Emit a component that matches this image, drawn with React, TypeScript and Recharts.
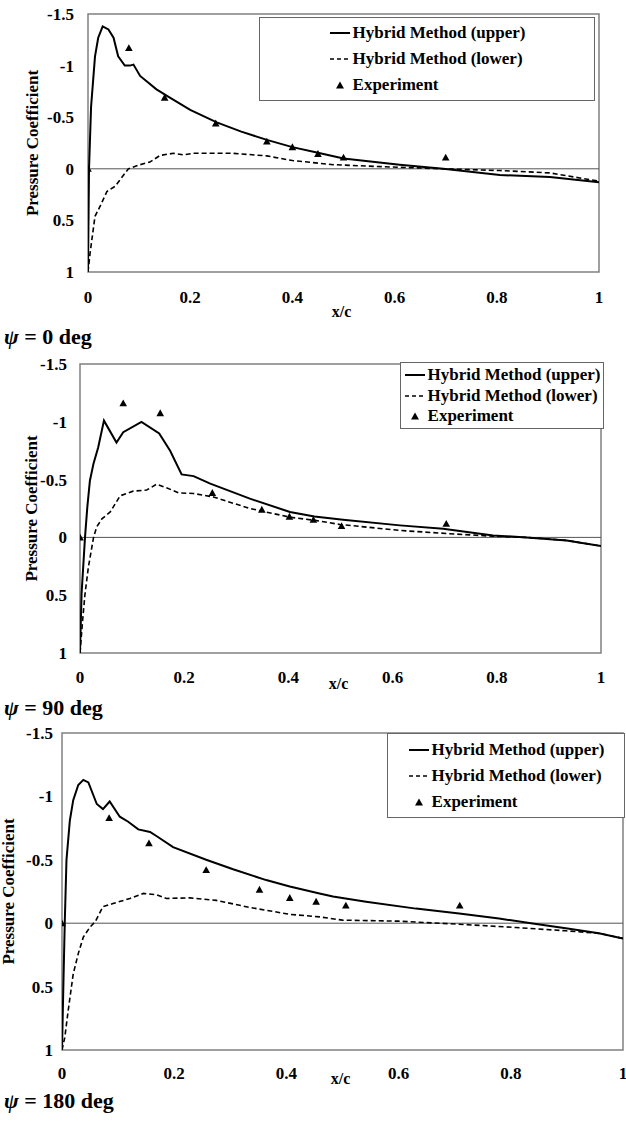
import React from 'react';
import { ComposedChart, Line, Scatter, XAxis, YAxis, ReferenceLine, ReferenceArea, Legend } from 'recharts';

type Pt = [number, number];

const xTicks = [0, 0.2, 0.4, 0.6, 0.8, 1];
const cpTicks = [-1.5, -1, -0.5, 0, 0.5, 1];
const seriesNames = ['Hybrid Method (upper)', 'Hybrid Method (lower)', 'Experiment'];
const panelAngles = ['0 deg', '90 deg', '180 deg'];

// psi = 0 deg  [x/c, Cp]
const upper0: Pt[] = [
  [0, 0.98], [0.002, 0], [0.006, -0.6], [0.0137, -1.09], [0.02, -1.27], [0.0287, -1.38], [0.04, -1.35],
  [0.05, -1.27], [0.059, -1.09], [0.072, -1.0], [0.082, -1.0], [0.089, -1.01], [0.102, -0.9], [0.134, -0.77],
  [0.157, -0.7], [0.2, -0.57], [0.252, -0.45], [0.3, -0.36], [0.35, -0.28], [0.4, -0.21], [0.45, -0.155],
  [0.5, -0.1], [0.61, -0.04], [0.695, 0], [0.806, 0.06], [0.904, 0.08], [1, 0.13],
];
const lower0: Pt[] = [
  [0, 1.0], [0.004, 0.82], [0.0137, 0.46], [0.023, 0.37], [0.037, 0.22], [0.053, 0.17], [0.079, 0],
  [0.102, -0.04], [0.121, -0.065], [0.141, -0.13], [0.167, -0.15], [0.187, -0.135], [0.206, -0.15],
  [0.284, -0.15], [0.35, -0.125], [0.4, -0.08], [0.45, -0.055], [0.48, -0.04], [0.578, -0.02], [0.695, 0],
  [0.806, 0.017], [0.904, 0.04], [1, 0.12],
];
const exp0: Pt[] = [
  [0, 0], [0.08, -1.17], [0.15, -0.69], [0.25, -0.44], [0.35, -0.265], [0.4, -0.21], [0.45, -0.145],
  [0.5, -0.11], [0.7, -0.11],
];

// psi = 90 deg
const upper90: Pt[] = [
  [0, 1.0], [0.003, 0.49], [0.0096, 0], [0.014, -0.26], [0.019, -0.49], [0.026, -0.64], [0.035, -0.78],
  [0.046, -1.01], [0.07, -0.82], [0.083, -0.91], [0.118, -1.0], [0.152, -0.9], [0.173, -0.75], [0.195, -0.545],
  [0.218, -0.53], [0.25, -0.465], [0.326, -0.335], [0.403, -0.22], [0.45, -0.18], [0.505, -0.153],
  [0.614, -0.104], [0.697, -0.075], [0.793, -0.017], [0.857, 0], [0.934, 0.026], [1, 0.075],
];
const lower90: Pt[] = [
  [0, 1.0], [0.005, 0.72], [0.0096, 0.49], [0.016, 0.26], [0.026, 0], [0.032, -0.09], [0.042, -0.16],
  [0.058, -0.22], [0.077, -0.36], [0.102, -0.4], [0.128, -0.41], [0.147, -0.46], [0.166, -0.43],
  [0.189, -0.385], [0.218, -0.38], [0.256, -0.35], [0.326, -0.25], [0.403, -0.175], [0.451, -0.147],
  [0.499, -0.112], [0.614, -0.06], [0.71, -0.032], [0.793, -0.01], [0.857, 0], [0.934, 0.026], [1, 0.075],
];
const exp90: Pt[] = [
  [0, 0], [0.083, -1.16], [0.154, -1.075], [0.254, -0.385], [0.349, -0.24], [0.402, -0.18], [0.448, -0.153],
  [0.502, -0.098], [0.703, -0.118],
];

// psi = 180 deg
const upper180: Pt[] = [
  [0, 1.0], [0.0024, 0.5], [0.005, -0.02], [0.008, -0.5], [0.014, -0.81], [0.02, -0.97], [0.029, -1.09],
  [0.038, -1.13], [0.047, -1.11], [0.062, -0.94], [0.073, -0.9], [0.085, -0.96], [0.103, -0.84], [0.118, -0.8],
  [0.136, -0.74], [0.157, -0.72], [0.171, -0.68], [0.198, -0.6], [0.257, -0.5], [0.305, -0.425], [0.364, -0.34],
  [0.406, -0.29], [0.459, -0.235], [0.483, -0.21], [0.542, -0.17], [0.631, -0.115], [0.708, -0.076],
  [0.779, -0.037], [0.839, 0.003], [0.898, 0.04], [0.957, 0.08], [1, 0.12],
];
const lower180: Pt[] = [
  [0, 1.0], [0.005, 0.9], [0.011, 0.69], [0.02, 0.4], [0.029, 0.24], [0.038, 0.11], [0.05, 0.03],
  [0.059, -0.01], [0.073, -0.13], [0.091, -0.155], [0.121, -0.195], [0.145, -0.235], [0.168, -0.225],
  [0.186, -0.195], [0.228, -0.2], [0.275, -0.18], [0.335, -0.124], [0.406, -0.07], [0.459, -0.05], [0.5, -0.024],
  [0.6, -0.016], [0.708, 0.008], [0.809, 0.034], [0.898, 0.06], [0.957, 0.08], [1, 0.12],
];
const exp180: Pt[] = [
  [0, 0], [0.084, -0.83], [0.155, -0.63], [0.257, -0.42], [0.352, -0.265], [0.406, -0.2], [0.453, -0.17],
  [0.506, -0.14], [0.709, -0.14],
];

const FONT = 'Liberation Serif, Times New Roman, Times, DejaVu Serif, serif';

const rows = (pts: Pt[]) => pts.map(([x, cp]) => ({ x, cp }));

// layout for each panel (positions only)
const panels = [
  {
    upper: upper0, lower: lower0, exp: exp0, top: 0, height: 325,
    margin: { top: 14, right: 27, bottom: 13, left: 0 }, yWidth: 88, xHeight: 40,
    yTickMargin: 14, xTickMargin: 19, titleX: 32, xcDy: 39,
    legend: { left: 259, top: 17, width: 336, height: 84, row: 26 },
    psiTop: 337,
  },
  {
    upper: upper90, lower: lower90, exp: exp90, top: 350, height: 345,
    margin: { top: 14, right: 25, bottom: 7, left: 0 }, yWidth: 80, xHeight: 35,
    yTickMargin: 13, xTickMargin: 18, titleX: 31, xcDy: 30,
    legend: { left: 400, top: 12, width: 204, height: 67, row: 20.5 },
    psiTop: 708,
  },
  {
    upper: upper180, lower: lower180, exp: exp180, top: 720, height: 380,
    margin: { top: 13, right: 3, bottom: 10, left: 0 }, yWidth: 62, xHeight: 40,
    yTickMargin: 9, xTickMargin: 17, titleX: 8, xcDy: 28,
    legend: { left: 387, top: 13, width: 238, height: 85, row: 26 },
    psiTop: 1101,
  },
];

const Triangle = (props: any) => {
  const { cx, cy } = props;
  if (cx == null || cy == null) return null;
  const s = 3.8;
  return <polygon points={`${cx},${cy - s} ${cx - s},${cy + s * 0.8} ${cx + s},${cy + s * 0.8}`} fill="#000" />;
};

function LegendBox({ row }: { row: number }) {
  const item = (icon: React.ReactNode, text: string) => (
    <div style={{ display: 'flex', alignItems: 'center', height: row, whiteSpace: 'nowrap' }}>
      <svg width={22} height={10} style={{ marginRight: 2 }}>{icon}</svg>
      <span>{text}</span>
    </div>
  );
  return (
    <div style={{
      width: '100%', height: '100%', display: 'flex', alignItems: 'center', justifyContent: 'center',
      fontFamily: FONT, fontWeight: 'bold', fontSize: 17, color: '#000',
    }}>
      <div>
        {item(<line x1={1} y1={5} x2={21} y2={5} stroke="#000" strokeWidth={2} />, seriesNames[0])}
        {item(<line x1={1} y1={5} x2={21} y2={5} stroke="#000" strokeWidth={1.6} strokeDasharray="4 3" />, seriesNames[1])}
        {item(<polygon points="11,1.5 7,8.5 15,8.5" fill="#000" />, seriesNames[2])}
      </div>
    </div>
  );
}

function Panel({ p }: { p: (typeof panels)[number] }) {
  const tickStyle = { fill: '#000', fontSize: 17, fontWeight: 'bold', fontFamily: FONT };
  return (
    <div style={{ position: 'absolute', left: 0, top: p.top }}>
      <ComposedChart width={626} height={p.height} margin={p.margin} style={{ fontFamily: FONT }}>
        <XAxis
          type="number" dataKey="x" domain={[0, 1]} ticks={xTicks} height={p.xHeight}
          axisLine={false} tickLine={false} tickSize={0} tickMargin={p.xTickMargin} tick={tickStyle}
          interval={0} allowDataOverflow
          label={{
            content: ({ viewBox }: any) => (
              <text x={viewBox.x + viewBox.width / 2 - 2} y={viewBox.y + p.xcDy} textAnchor="middle"
                dominantBaseline="central" fontSize={16} fontWeight="bold" fontFamily={FONT} fill="#000">x/c</text>
            ),
          }}
        />
        <YAxis
          type="number" dataKey="cp" domain={[-1.5, 1]} reversed ticks={cpTicks} width={p.yWidth}
          axisLine={false} tickLine={false} tickSize={0} tickMargin={p.yTickMargin} tick={tickStyle}
          interval={0} allowDataOverflow
          label={{
            content: ({ viewBox }: any) => {
              const cy = viewBox.y + viewBox.height / 2;
              return (
                <text x={p.titleX} y={cy} transform={`rotate(-90, ${p.titleX}, ${cy})`} textAnchor="middle"
                  dominantBaseline="central" fontSize={17} fontWeight="bold" fontFamily={FONT} fill="#000">
                  Pressure Coefficient
                </text>
              );
            },
          }}
        />
        <ReferenceLine y={0} stroke="#555" strokeWidth={1} />
        <Line data={rows(p.lower)} dataKey="cp" type="linear" stroke="#000" strokeWidth={1.6}
          strokeDasharray="5 3" dot={false} isAnimationActive={false} name={seriesNames[1]} />
        <Line data={rows(p.upper)} dataKey="cp" type="linear" stroke="#000" strokeWidth={2}
          dot={false} isAnimationActive={false} name={seriesNames[0]} />
        <Scatter data={rows(p.exp)} dataKey="cp" fill="#000" shape={Triangle}
          isAnimationActive={false} name={seriesNames[2]} />
        <ReferenceArea x1={0} x2={1} y1={-1.5} y2={1} fill="none" fillOpacity={0} stroke="#808080" strokeWidth={1.5} />
        <Legend
          layout="vertical" align="center" verticalAlign="middle"
          content={() => <LegendBox row={p.legend.row} />}
          wrapperStyle={{
            left: p.legend.left, top: p.legend.top, width: p.legend.width, height: p.legend.height,
            border: '1px solid #666', background: '#fff', boxSizing: 'border-box', right: 'auto', bottom: 'auto',
          }}
        />
      </ComposedChart>
    </div>
  );
}

export default function App() {
  return (
    <div style={{ position: 'absolute', left: 0, top: 0, width: 626, height: 1121, background: '#fff', overflow: 'hidden' }}>
      {panels.map((p, i) => (
        <React.Fragment key={i}>
          <Panel p={p} />
          <div style={{
            position: 'absolute', left: 4, top: p.psiTop - 13, height: 26, lineHeight: '26px',
            fontFamily: FONT, fontWeight: 'bold', fontSize: 22, color: '#000', whiteSpace: 'nowrap',
          }}>
            <i>ψ</i> = {panelAngles[i]}
          </div>
        </React.Fragment>
      ))}
    </div>
  );
}
